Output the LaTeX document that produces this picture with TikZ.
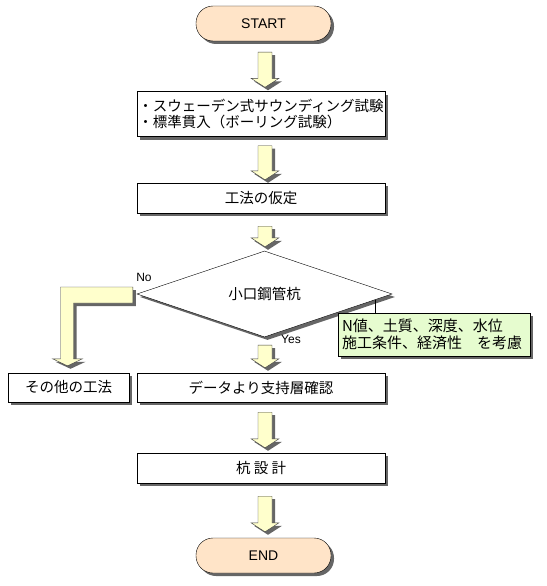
\documentclass[tikz,border=0pt]{standalone}
\usepackage{fontspec}
\setmainfont{Liberation Sans}
\newfontfamily\jp{Noto Sans CJK JP}
\usetikzlibrary{shapes.geometric,shadows,calc}
\definecolor{startfill}{HTML}{FFE4C8}
\definecolor{arrowfill}{HTML}{FFFFCC}
\definecolor{notefill}{HTML}{E6FCCF}
\newcommand\blockarrow[4]{%
  \path[blk] let \p1=(#1.south), \p2=(#2.north) in
    (258pt,\y1-#3) -- (272pt,\y1-#3) -- (272pt,\y2+#4+9pt) -- (279pt,\y2+#4+9pt)
    -- (265pt,\y2+#4) -- (251pt,\y2+#4+9pt) -- (258pt,\y2+#4+9pt) -- cycle;}
\begin{document}
\begin{tikzpicture}[x=1pt,y=-1pt,
  shadowed/.style={drop shadow={shadow xshift=3pt,shadow yshift=-3pt,opacity=0.6,fill=black}},
  terminal/.style={draw, rounded corners=17pt, fill=startfill, minimum width=135pt,
    minimum height=35pt, shadowed, font=\fontsize{14}{16}\selectfont, inner sep=0pt},
  procbox/.style={draw, fill=white, minimum width=248pt, shadowed,
    font=\jp\fontsize{14.5}{16.5}\selectfont, inner sep=0pt},
  blk/.style={draw=black!75, fill=arrowfill, line join=miter, shadowed},
  lbl/.style={font=\fontsize{12}{14}\selectfont, inner sep=0pt}
]
\useasboundingbox (0,0) rectangle (546,586);

\node[terminal] (start) at (263.5,23.5) {START};
\node[procbox, minimum height=45pt, align=left] (b1) at (261,114)
  {・スウェーデン式サウンディング試験\\・標準貫入（ボーリング試験）};
\node[procbox, minimum height=30pt] (b2) at (261,198) {工法の仮定};
\node[diamond, draw, fill=white, minimum width=255pt, minimum height=56pt, inner sep=0pt,
  shadowed, font=\jp\fontsize{14.5}{16}\selectfont] (dia) at (264.5,294) {小口鋼管杭};
\node[draw, fill=white, minimum width=121pt, minimum height=29pt, inner sep=0pt, shadowed,
  font=\jp\fontsize{14.5}{16}\selectfont] (other) at (68.5,387.5) {その他の工法};
\node[procbox, minimum height=29pt] (b3) at (261,387.5) {データより支持層確認};
\node[procbox, minimum height=30pt] (b4) at (261,468) {杭 設 計};
\node[terminal] (end) at (263.5,555.5) {END};

\node[draw, fill=notefill, text width=184pt, inner xsep=4pt, inner ysep=0pt,
  minimum height=43pt, shadowed, align=left, font=\jp\fontsize{15}{17}\selectfont]
  (note) at (434,334.5)
  {N値、土質、深度、水位\\施工条件、経済性　を考慮};

\blockarrow{start}{b1}{11pt}{4pt}
\blockarrow{b1}{b2}{9pt}{3pt}
\blockarrow{b2}{dia}{13pt}{4pt}
\blockarrow{dia}{b3}{8pt}{5pt}
\blockarrow{b3}{b4}{10pt}{5pt}
\blockarrow{b4}{end}{13pt}{6pt}

\path[blk] let \p1=(dia.west), \p2=(other.north) in
  (\x1-4pt,\y1+7pt) -- (\x2-8pt,\y1+7pt) -- (\x2-8pt,\y2+14pt) -- (\x2-16pt,\y2+14pt)
  -- (\x2-1pt,\y2+7pt) -- (\x2+14pt,\y2+14pt) -- (\x2+5pt,\y2+14pt)
  -- (\x2+5pt,\y1-9pt) -- (\x1-4pt,\y1-9pt) -- cycle;

\coordinate (nl) at ($(dia.east)!0.133!(dia.south)$);
\draw (nl) -- (nl |- note.north);

\node[lbl] (no) at (144,277) {No};
\node[lbl] (yes) at (291,339) {Yes};
\end{tikzpicture}
\end{document}
